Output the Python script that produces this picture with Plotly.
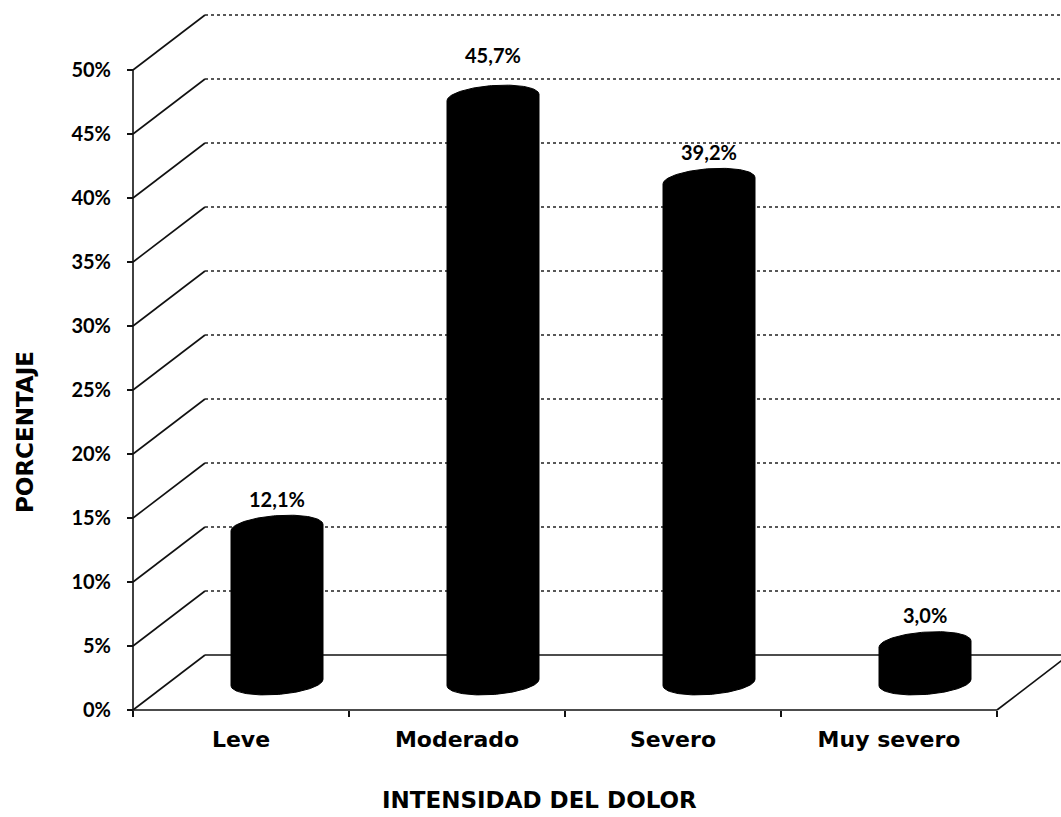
import numpy as np
import plotly.graph_objects as go

# ---------------- data ----------------
categories = ["Leve", "Moderado", "Severo", "Muy severo"]
values = [12.1, 45.7, 39.2, 3.0]
value_labels = ["12,1%", "45,7%", "39,2%", "3,0%"]
y_ticks = [0, 5, 10, 15, 20, 25, 30, 35, 40, 45, 50]
y_tick_labels = ["0%", "5%", "10%", "15%", "20%", "25%", "30%", "35%", "40%", "45%", "50%"]
x_title = "INTENSIDAD DEL DOLOR"
y_title = "PORCENTAJE"

# ---------------- style / geometry ----------------
W, H = 1061, 817
PXX = 216.0          # px per category
PXY = 12.8           # px per percent
PAD = 10             # px of room around the axes
ML, MB = 133 - PAD, 817 - 710 - PAD
plot_w = W - ML
plot_h = H - MB
x_min = -PAD / PXX
x_max = (W - 133) / PXX
y_min = -PAD / PXY
y_max = 710 / PXY
DX = 72 / PXX        # depth offset of back wall (x)
DY = 55 / PXY        # depth offset of back wall (y)
RX = 46 / PXX        # cylinder radius
RY = 12 / PXY        # ellipse half-height
TILT = 0.07 * PXX / PXY
label_lift = [0, 14, 0, 0]   # extra px for value labels
ncat = len(categories)

fig = go.Figure()

# back wall dotted gridlines
gx, gy = [], []
for t in y_ticks[1:]:
    gx += [DX, x_max + 1, None]
    gy += [t + DY, t + DY, None]
fig.add_trace(go.Scatter(x=gx, y=gy, mode="lines", hoverinfo="skip",
                         line=dict(color="#222222", width=1.6, dash="dot")))

# floor back edge + side wall diagonals + floor right edge + front axis + y axis
sx, sy = [DX, x_max + 1, None], [DY, DY, None]
for t in y_ticks:
    sx += [0, DX, None]
    sy += [t, t + DY, None]
sx += [ncat, ncat + DX, None]
sy += [0, DY, None]
sx += [0, ncat, None]
sy += [0, 0, None]
sx += [0, 0, None]
sy += [0, y_ticks[-1], None]
fig.add_trace(go.Scatter(x=sx, y=sy, mode="lines", hoverinfo="skip",
                         line=dict(color="#111111", width=1.6)))

# cylinders
for i, v in enumerate(values):
    cx = i + 0.5 + DX / 2
    y0 = DY / 2
    y1 = v + DY / 2
    n = 60
    t1 = np.linspace(np.pi, 0, n)
    xt = cx + RX * np.cos(t1)
    yt = y1 + RY * np.sin(t1) + TILT * (xt - cx)
    t2 = np.linspace(0, -np.pi, n)
    xb = cx + RX * np.cos(t2)
    yb = y0 + RY * np.sin(t2) + TILT * (xb - cx)
    fig.add_trace(go.Scatter(x=np.concatenate([xt, xb, xt[:1]]),
                             y=np.concatenate([yt, yb, yt[:1]]),
                             mode="lines", fill="toself", fillcolor="#000000",
                             line=dict(color="#000000", width=1), hoverinfo="skip"))
    fig.add_annotation(x=cx, y=y1, text=value_labels[i], showarrow=False,
                       xanchor="center", yanchor="bottom", yshift=RY * PXY + 3 + label_lift[i],
                       font=dict(family="Lato", size=20, color="#000000", weight="bold"))

# axis titles
fig.add_annotation(xref="paper", yref="paper", x=(539 - ML) / plot_w, y=(plot_h - 800) / plot_h,
                   text=x_title, showarrow=False, xanchor="center", yanchor="middle",
                   font=dict(family="DejaVu Sans", size=23, color="#000000", weight="bold"))
fig.add_annotation(xref="paper", yref="paper", x=(25 - ML) / plot_w, y=(plot_h - 432) / plot_h,
                   text=y_title, showarrow=False, textangle=-90, xanchor="center", yanchor="middle",
                   font=dict(family="DejaVu Sans", size=23, color="#000000", weight="bold"))

fig.update_layout(
    width=W, height=H, showlegend=False,
    margin=dict(l=ML, r=0, t=0, b=MB),
    paper_bgcolor="white", plot_bgcolor="white",
    xaxis=dict(range=[x_min, x_max], anchor="free", position=PAD / plot_h,
               showgrid=False, zeroline=False, showline=False,
               tickmode="array", tickvals=[i + 0.5 for i in range(ncat)], ticktext=categories,
               ticks="", ticklabelstandoff=14,
               tickfont=dict(family="DejaVu Sans", size=22, color="#000000", weight="bold"),
               minor=dict(tickmode="array", tickvals=list(range(ncat + 1)), ticks="outside",
                          ticklen=6, tickwidth=1.5, tickcolor="#111111")),
    yaxis=dict(range=[y_min, y_max], anchor="free", position=PAD / plot_w,
               showgrid=False, zeroline=False, showline=False,
               tickmode="array", tickvals=y_ticks, ticktext=y_tick_labels,
               ticks="outside", ticklen=6, tickwidth=1.5, tickcolor="#111111",
               ticklabelstandoff=12,
               tickfont=dict(family="Lato", size=20, color="#000000", weight="bold")),
)

fig.write_html("out.html")
